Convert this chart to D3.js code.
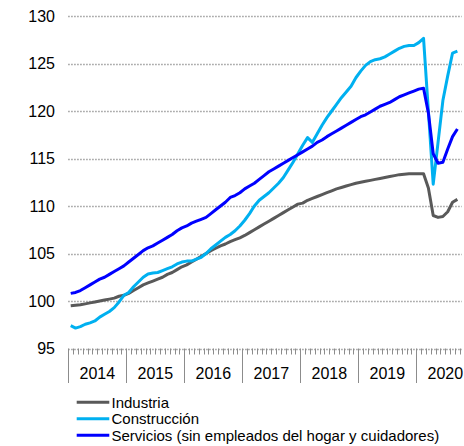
<!DOCTYPE html>
<html>
<head>
<meta charset="utf-8">
<script src="https://cdn.jsdelivr.net/npm/d3@7"></script>
<style>
  body { margin: 0; background: #fff; }
  svg { display: block; font-family: "Liberation Sans", Arial, sans-serif; }
</style>
</head>
<body>
<div class="chart"></div>
<script>
// monthly index values, Jan 2014 - Sep 2020
const industria = [
  99.5, 99.55, 99.6, 99.7, 99.8, 99.9, 100.0, 100.1, 100.2, 100.3, 100.5, 100.6,
  100.8, 101.1, 101.4, 101.7, 101.9, 102.1, 102.3, 102.5, 102.8, 103.0, 103.3, 103.6,
  103.8, 104.1, 104.4, 104.7, 105.0, 105.3, 105.55, 105.8, 106.0, 106.25, 106.45, 106.65,
  106.9, 107.2, 107.5, 107.8, 108.1, 108.4, 108.7, 109.0, 109.3, 109.6, 109.9, 110.2,
  110.3, 110.6, 110.8, 111.0, 111.2, 111.4, 111.6, 111.8, 111.95, 112.1, 112.25, 112.4,
  112.5, 112.6, 112.7, 112.8, 112.9, 113.0, 113.1, 113.2, 113.3, 113.35, 113.4, 113.4,
  113.4, 113.4, 111.9, 109.0, 108.8, 108.9, 109.4, 110.4, 110.7
];
const construccion = [
  97.4, 97.15, 97.3, 97.55, 97.7, 97.9, 98.3, 98.6, 98.9, 99.3, 99.9, 100.6,
  100.9, 101.5, 102.0, 102.5, 102.85, 102.95, 103.0, 103.2, 103.4, 103.6, 103.9, 104.1,
  104.2, 104.2, 104.4, 104.6, 105.0, 105.5, 105.9, 106.3, 106.7, 107.0, 107.4, 107.9,
  108.5, 109.2, 110.0, 110.6, 111.0, 111.4, 111.9, 112.4, 113.0, 113.8, 114.6, 115.5,
  116.4, 117.2, 116.7, 117.6, 118.5, 119.3, 120.0, 120.7, 121.4, 122.0, 122.6, 123.5,
  124.2, 124.8, 125.2, 125.4, 125.5, 125.7, 126.0, 126.3, 126.6, 126.8, 126.9, 126.9,
  127.2, 127.65, 120.0, 112.3, 116.7, 121.1, 123.7, 126.1, 126.3
];
const servicios = [
  100.8, 100.9, 101.1, 101.4, 101.7, 102.0, 102.3, 102.5, 102.8, 103.1, 103.4, 103.7,
  104.1, 104.5, 104.9, 105.3, 105.6, 105.8, 106.1, 106.4, 106.7, 107.0, 107.4, 107.7,
  107.9, 108.2, 108.4, 108.6, 108.8, 109.2, 109.6, 110.0, 110.4, 110.9, 111.1, 111.4,
  111.8, 112.1, 112.4, 112.8, 113.2, 113.6, 113.9, 114.2, 114.5, 114.8, 115.1, 115.4,
  115.7, 116.0, 116.3, 116.7, 116.95, 117.3, 117.6, 117.9, 118.2, 118.5, 118.8, 119.1,
  119.4, 119.6, 119.9, 120.2, 120.5, 120.7, 120.9, 121.2, 121.5, 121.7, 121.9, 122.1,
  122.3, 122.4, 119.8, 115.5, 114.5, 114.6, 116.0, 117.3, 118.1
];

const years = [2014, 2015, 2016, 2017, 2018, 2019, 2020];
const yTicks = [95, 100, 105, 110, 115, 120, 125, 130];
const seriesNames = ["Industria", "Construcción", "Servicios (sin empleados del hogar y cuidadores)"];

const width = 464;
const height = 446;
const nMonths = industria.length;
const colors = ["#595959", "#00b0f0", "#0000ff"];
const series = [industria, construccion, servicios];

const svg = d3.select(".chart")
  .append("svg")
  .attr("width", width)
  .attr("height", height);

// month scale: boundaries between months
const x = d3.scaleLinear()
  .domain([0, nMonths])
  .range([68.3, 459.8]);

const y = d3.scaleLinear()
  .domain([95, 130])
  .range([348.5, 16]);

// dotted gridlines
svg.append("g")
  .selectAll("line")
  .data(yTicks)
  .enter()
  .append("line")
  .attr("x1", x(0))
  .attr("x2", x(nMonths) + 2)
  .attr("y1", d => Math.round(y(d)) + 0.5)
  .attr("y2", d => Math.round(y(d)) + 0.5)
  .attr("stroke", "#8c8c8c")
  .attr("stroke-width", 1.3)
  .attr("stroke-dasharray", "1.3,1.7");

// y labels
svg.append("g")
  .selectAll("text")
  .data(yTicks)
  .enter()
  .append("text")
  .attr("x", 55)
  .attr("y", d => y(d))
  .attr("dy", "0.36em")
  .attr("text-anchor", "end")
  .attr("font-size", 16)
  .attr("fill", "#000")
  .text(d => d);

// month ticks and year separators
const monthTicks = d3.range(0, nMonths + 1);
svg.append("g")
  .selectAll("line")
  .data(monthTicks)
  .enter()
  .append("line")
  .attr("x1", d => Math.round(x(d)) + 0.5)
  .attr("x2", d => Math.round(x(d)) + 0.5)
  .attr("y1", y(95))
  .attr("y2", d => (d % 12 === 0 ? 383 : y(95) + 6))
  .attr("stroke", "#8c8c8c")
  .attr("stroke-width", 1);

// year labels centred on a full 12-month band
svg.append("g")
  .selectAll("text")
  .data(years)
  .enter()
  .append("text")
  .attr("x", (d, i) => x(i * 12 + 6))
  .attr("y", 379)
  .attr("text-anchor", "middle")
  .attr("font-size", 16)
  .attr("fill", "#000")
  .text(d => d);

// lines, points at mid month
const line = d3.line()
  .x((d, i) => x(i + 0.5))
  .y(d => y(d));

svg.append("g")
  .selectAll("path")
  .data(series)
  .enter()
  .append("path")
  .attr("d", line)
  .attr("fill", "none")
  .attr("stroke", (d, i) => colors[i])
  .attr("stroke-width", 3)
  .attr("stroke-linejoin", "round");

// legend
const legend = svg.append("g")
  .selectAll("g")
  .data(seriesNames)
  .enter()
  .append("g")
  .attr("transform", (d, i) => `translate(0, ${402.3 + i * 16.5})`);

legend.append("line")
  .attr("x1", 76.7)
  .attr("x2", 109.3)
  .attr("stroke", (d, i) => colors[i])
  .attr("stroke-width", 3);

legend.append("text")
  .attr("x", 111.5)
  .attr("dy", "0.36em")
  .attr("font-size", 15)
  .attr("fill", "#000")
  .text(d => d);
</script>
</body>
</html>
